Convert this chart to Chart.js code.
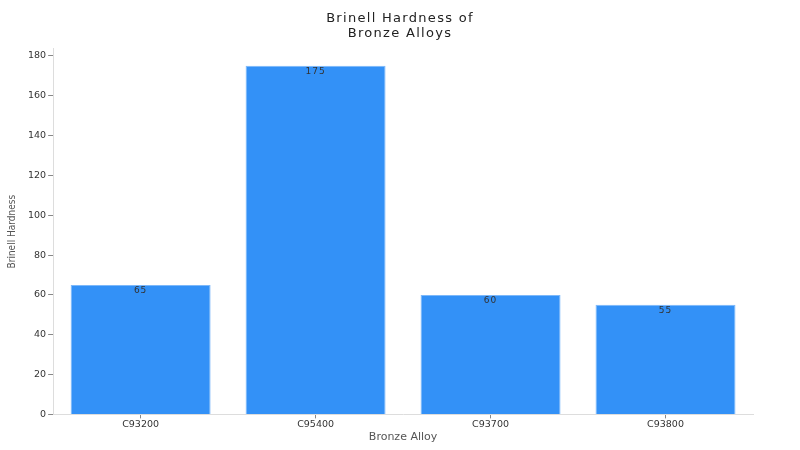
<!doctype html>
<html lang="en">
<head>
    <meta charset="utf-8">
    <title>Brinell Hardness of Bronze Alloys</title>
    <script src="https://cdn.jsdelivr.net/npm/chart.js@4.4.0/dist/chart.umd.min.js"></script>
    <style>
        html, body { margin: 0; padding: 0; background: #fff; }
        #wrap { width: 800px; height: 450px; }
    </style>
</head>
<body>
<div id="wrap">
    <canvas id="hardnessCanvas" width="800" height="450"></canvas>
</div>

<script>
    // values
    let alloys = ["C93200", "C95400", "C93700", "C93800"];
    let hardness = [65, 175, 60, 55];
    let yTicks = [0, 20, 40, 60, 80, 100, 120, 140, 160, 180];
    let titleLines = ['Brinell Hardness of', 'Bronze Alloys'];

    // writes the value just under the top of each bar,
    // and the spaced-out title (chart.js title only keeps the room for it)
    const extraText = {
        id: 'extraText',
        afterDatasetsDraw(chart) {
            let ctx = chart.ctx;
            let meta = chart.getDatasetMeta(0);
            ctx.save();
            ctx.font = '9px "DejaVu Sans"';
            ctx.fillStyle = '#333';
            ctx.textAlign = 'center';
            ctx.textBaseline = 'middle';
            if (ctx.letterSpacing !== undefined) ctx.letterSpacing = '1px';
            meta.data.forEach(function (bar, i) {
                ctx.fillText(hardness[i], bar.x, bar.y + 6);
            });
            ctx.restore();
        },
        afterDraw(chart) {
            let ctx = chart.ctx;
            ctx.save();
            ctx.font = '13px "DejaVu Sans"';
            ctx.fillStyle = '#222';
            ctx.textAlign = 'center';
            ctx.textBaseline = 'middle';
            if (ctx.letterSpacing !== undefined) ctx.letterSpacing = '1.3px';
            ctx.fillText(titleLines[0], 400, 19);
            ctx.fillText(titleLines[1], 400, 34);
            ctx.restore();
        }
    };

    new Chart(document.getElementById('hardnessCanvas'), {
        type: 'bar',
        data: {
            labels: alloys,
            datasets: [{
                label: 'Brinell Hardness',
                data: hardness,
                backgroundColor: '#3391f7',
                borderColor: '#7cb8fa',
                borderWidth: 1,
                categoryPercentage: 0.8,
                barPercentage: 1.0
            }]
        },
        options: {
            responsive: false,
            animation: false,
            layout: {padding: {left: 6, right: 47, top: 0, bottom: 6}},
            plugins: {
                legend: {display: false},
                tooltip: {enabled: false},
                title: {
                    display: true,
                    text: titleLines,
                    color: 'rgba(0,0,0,0)',
                    font: {family: 'DejaVu Sans', size: 13, weight: 'normal', lineHeight: 1.15},
                    padding: {top: 11, bottom: 8}
                }
            },
            scales: {
                x: {
                    grid: {drawOnChartArea: false, offset: false, tickLength: 4, color: '#888'},
                    border: {color: '#ddd'},
                    ticks: {color: '#333', font: {family: 'DejaVu Sans', size: 9.5}, padding: 0},
                    title: {
                        display: true, text: 'Bronze Alloy', color: '#555',
                        font: {family: 'DejaVu Sans', size: 11}, padding: {top: 1, bottom: 0}
                    }
                },
                y: {
                    min: 0,
                    max: 183.5,
                    afterBuildTicks: function (axis) {
                        axis.ticks = yTicks.map(function (v) { return {value: v}; });
                    },
                    grid: {drawOnChartArea: false, tickLength: 5, color: '#888'},
                    border: {color: '#ddd'},
                    ticks: {color: '#333', font: {family: 'DejaVu Sans', size: 9.5}, padding: 2},
                    title: {
                        display: true, text: 'Brinell Hardness', color: '#555',
                        font: {family: '"DejaVu Sans Condensed", Roboto, sans-serif', size: 10},
                        padding: {top: 0, bottom: 8}
                    }
                }
            }
        },
        plugins: [extraText]
    });
</script>
</body>
</html>
